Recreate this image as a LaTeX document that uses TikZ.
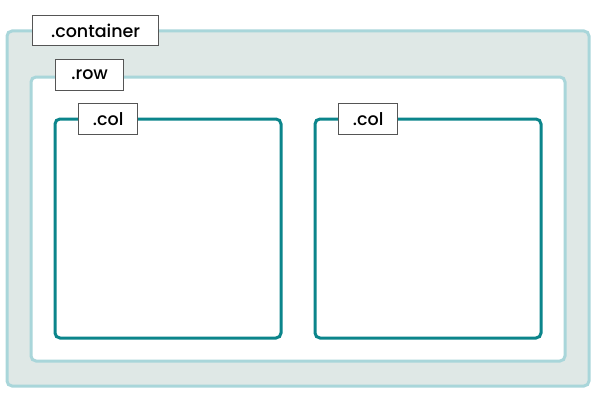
\documentclass[tikz,border=0pt]{standalone}
\usepackage{fontspec}
\setmainfont{Poppins}[UprightFont=* Medium]
\usetikzlibrary{calc}

\definecolor{paleteal}{HTML}{A9D6DA}
\definecolor{palegray}{HTML}{DFE8E6}
\definecolor{darkteal}{HTML}{0B858B}
\definecolor{tagline}{HTML}{555555}

\tikzset{
  tag/.style={draw=tagline, line width=1.3pt, fill=white, inner sep=0pt,
    font=\fontsize{17.5}{19}\selectfont, anchor=north west}
}

\begin{document}
\begin{tikzpicture}[x=1pt, y=-1pt]

\useasboundingbox (0,0) rectangle (596,404);

\coordinate (C1) at (7,31);
\coordinate (C2) at (589,386);
\coordinate (R1) at (31,77);
\coordinate (R2) at (565,361);
\coordinate (L1) at (55,119);
\coordinate (L2) at (281,338);
\coordinate (M1) at (315,119);
\coordinate (M2) at (541,338);

\draw[paleteal, fill=palegray, line width=3pt, rounded corners=5pt] (C1) rectangle (C2);
\draw[paleteal, fill=white, line width=3pt, rounded corners=5pt] (R1) rectangle (R2);
\draw[darkteal, fill=white, line width=3pt, rounded corners=5pt] (L1) rectangle (L2);
\draw[darkteal, fill=white, line width=3pt, rounded corners=5pt] (M1) rectangle (M2);

\node[tag, minimum width=126pt, minimum height=30pt] (container) at (32,15) {.container};
\node[tag, minimum width=68pt, minimum height=31pt] (row) at (55,59) {.row};
\node[tag, minimum width=59pt, minimum height=31pt] (colA) at (78,103) {.col};
\node[tag, minimum width=59pt, minimum height=31pt] (colB) at (338,103) {.col};

\end{tikzpicture}
\end{document}
